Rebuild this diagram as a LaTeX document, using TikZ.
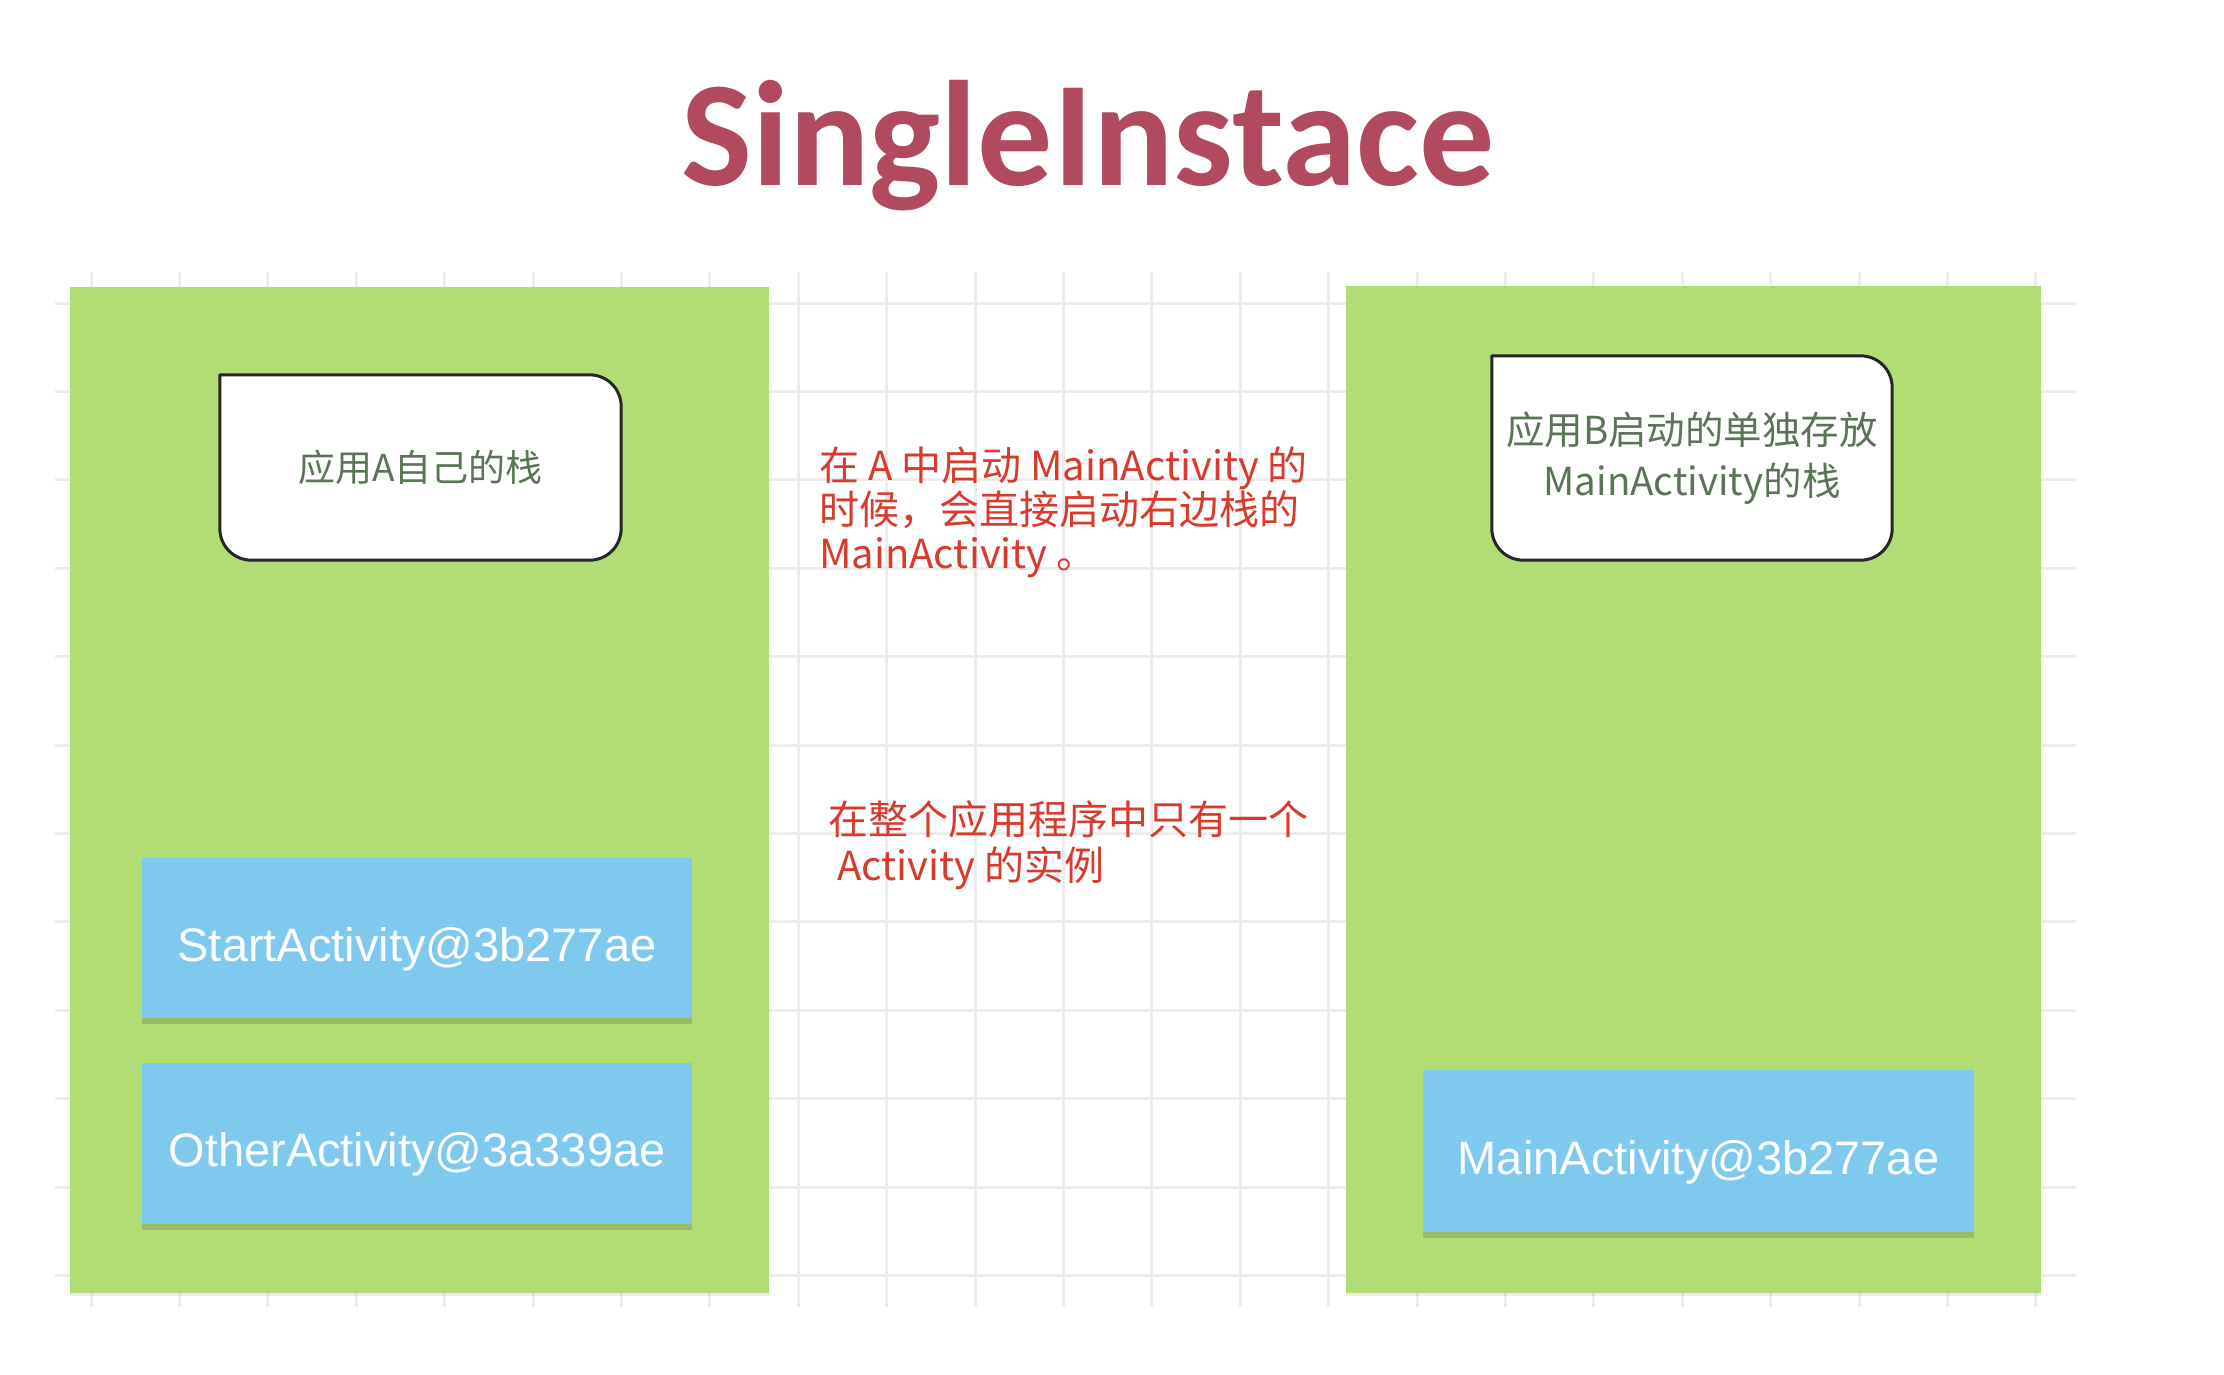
\documentclass[tikz,border=0pt]{standalone}
\usepackage{fontspec}
\newfontfamily\cjk{Noto Sans CJK SC}
\newfontfamily\helv{Liberation Sans}
\newfontfamily\titlef{Carlito}
\usetikzlibrary{calc,shadows}
\definecolor{gridc}{HTML}{ECECEC}
\definecolor{panelg}{HTML}{B2DC74}
\definecolor{boxblue}{HTML}{7FC8EE}
\definecolor{titlec}{HTML}{B14A5F}
\definecolor{notered}{HTML}{D83A2B}
\definecolor{boxtext}{HTML}{5A7555}
\definecolor{shadowg}{HTML}{8FB35A}
\pgfdeclarelayer{back}
\pgfdeclarelayer{mid}
\pgfsetlayers{back,mid,main}
% #1 node name, #2 corner radius, #3 control distance from the corner (0.448 * radius)
\newcommand\stackoutline[3]{%
  \draw[stackline, fill=white] (#1.north west)
    -- ($(#1.north east)+(-#2,0)$)
    .. controls ($(#1.north east)+(-#3,0)$) and ($(#1.north east)+(0,#3)$) .. ($(#1.north east)+(0,#2)$)
    -- ($(#1.south east)+(0,-#2)$)
    .. controls ($(#1.south east)+(0,-#3)$) and ($(#1.south east)+(-#3,0)$) .. ($(#1.south east)+(-#2,0)$)
    -- ($(#1.south west)+(#2,0)$)
    .. controls ($(#1.south west)+(#3,0)$) and ($(#1.south west)+(0,-#3)$) .. ($(#1.south west)+(0,-#2)$)
    -- cycle;}
\begin{document}
\begin{tikzpicture}[x=1pt,y=-1pt,
  panel/.style={fill=panelg, draw=none, inner sep=0pt,
    drop shadow={shadow xshift=0pt, shadow yshift=-3pt, fill=black, opacity=0.07}},
  actbox/.style={fill=boxblue, draw=none, inner sep=0pt, text=white,
    text height=46pt, text depth=0pt,
    font=\helv\fontsize{47}{56}\selectfont,
    drop shadow={shadow xshift=0pt, shadow yshift=-6pt, fill=shadowg, opacity=0.75}},
  stackbox/.style={draw=none, fill=none, inner sep=0pt, text=boxtext, align=center},
  stackline/.style={draw=black!85, line width=3pt, line join=round},
  note/.style={text=notered, inner sep=0pt, anchor=north west, align=left},
  gridline/.style={draw=gridc, line width=3pt}
]
\useasboundingbox (0,0) rectangle (2224,1374);

\begin{pgfonlayer}{back}
  \fill[white] (0,0) rectangle (2224,1374);
  \foreach \i in {0,...,22} \draw[gridline] ({91+88.4*\i},272) -- ({91+88.4*\i},1307);
  \foreach \j in {0,...,11} \draw[gridline] (55,{303+88.4*\j}) -- (2076,{303+88.4*\j});
  \node[panel, minimum width=699pt, minimum height=1006pt] (panelA) at (419.5,790) {};
  \node[panel, minimum width=695pt, minimum height=1007pt] (panelB) at (1693.5,789.5) {};
\end{pgfonlayer}

% title
\node[font=\titlef\bfseries\fontsize{150}{180}\selectfont, text=titlec, anchor=base, inner sep=0pt]
  (title) at (1088,185) {SingleInstace};

% stack header boxes
\node[stackbox, minimum width=401pt, minimum height=185pt, font=\cjk\fontsize{37}{44}\selectfont]
  (stackA) at (420.5,467.5) {应用A自己的栈};
\node[stackbox, minimum width=400pt, minimum height=204pt, font=\cjk\fontsize{38.5}{51}\selectfont]
  (stackB) at (1692,458) {应用B启动的单独存放\\MainActivity的栈\rule[-6pt]{0pt}{1pt}};
\begin{pgfonlayer}{mid}
  \stackoutline{stackA}{32}{14}
  \stackoutline{stackB}{32}{14}
\end{pgfonlayer}

% activity boxes
\node[actbox, minimum width=550pt, minimum height=160pt] (start) at (417,938) {StartActivity@3b277ae};
\node[actbox, minimum width=550pt, minimum height=161pt] (other) at (417,1143.5) {OtherActivity@3a339ae};
\node[actbox, minimum width=551pt, minimum height=162pt] (mainact) at (1698.5,1151) {MainActivity@3b277ae};

% notes
\node[note, font=\cjk\fontsize{40}{44}\selectfont] (note1) at (819,447)
  {在 A 中启动 MainActivity 的\\时候，会直接启动右边栈的\\MainActivity 。};
\node[note, font=\cjk\fontsize{40}{46}\selectfont] (note2) at (828,800)
  {在整个应用程序中只有一个\\\hspace*{9pt}Activity 的实例};
\end{tikzpicture}
\end{document}
